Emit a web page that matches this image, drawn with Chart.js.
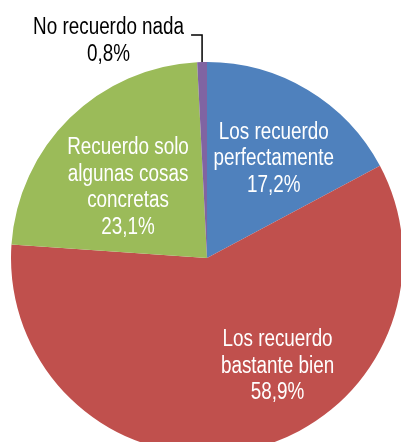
<!DOCTYPE html>
<html>
<head>
<meta charset="utf-8">
<script src="https://cdn.jsdelivr.net/npm/chart.js@4/dist/chart.umd.min.js"></script>
<style>
html,body{margin:0;padding:0;background:#fff;overflow:hidden;width:401px;height:442px;}
canvas{position:absolute;left:0;top:0;}
</style>
</head>
<body>
<canvas id="c" width="414" height="460"></canvas>
<script>
const categories = ["Los recuerdo perfectamente", "Los recuerdo bastante bien", "Recuerdo solo algunas cosas concretas", "No recuerdo nada"];
const labelLines = [["Los recuerdo", "perfectamente"], ["Los recuerdo", "bastante bien"], ["Recuerdo solo", "algunas cosas", "concretas"], ["No recuerdo nada"]];
const values = [17.2, 58.9, 23.1, 0.8];
const valueLabels = ["17,2%", "58,9%", "23,1%", "0,8%"];
const colors = ["#4F81BD", "#C0504D", "#9BBB59", "#8064A2"];

// label placement: angle offset (deg) from slice middle, radius fraction; purple is outside with a leader line
const placement = [
  {inside: true, dAng: 3, frac: 0.61},
  {inside: true, dAng: -21, frac: 0.66},
  {inside: true, dAng: -3.8, frac: 0.54},
  {inside: false, rise: 27, run: 11}
];

const FONT = "23px 'Liberation Sans', Arial, sans-serif";
const NARROW = 0.82;
const LINE_H = 26.5;

function narrowText(ctx, t, x, y) {
  ctx.save();
  ctx.translate(x, y);
  ctx.scale(NARROW, 1);
  ctx.fillText(t, 0, 0);
  ctx.restore();
}

const labelPlugin = {
  id: 'sliceLabels',
  afterDatasetsDraw(chart) {
    const ctx = chart.ctx;
    const meta = chart.getDatasetMeta(0);
    ctx.save();
    ctx.font = FONT;
    ctx.textAlign = 'center';
    ctx.textBaseline = 'middle';
    meta.data.forEach((arc, i) => {
      const p = arc.getProps(['x', 'y', 'startAngle', 'endAngle', 'outerRadius'], true);
      const mid = (p.startAngle + p.endAngle) / 2;
      const lines = labelLines[i].concat([valueLabels[i]]);
      const pl = placement[i];
      if (pl.inside) {
        const a = mid + pl.dAng * Math.PI / 180;
        const r = p.outerRadius * pl.frac;
        const cx = p.x + Math.cos(a) * r;
        const cy = p.y + Math.sin(a) * r;
        ctx.fillStyle = '#ffffff';
        const n = lines.length;
        lines.forEach((t, k) => {
          narrowText(ctx, t, cx, cy + (k - (n - 1) / 2) * LINE_H);
        });
      } else {
        const ex = p.x + Math.cos(mid) * p.outerRadius;
        const ey = p.y + Math.sin(mid) * p.outerRadius;
        const ty = ey - pl.rise;
        const tx = ex - pl.run;
        ctx.strokeStyle = '#000';
        ctx.lineWidth = 1.5;
        ctx.beginPath();
        ctx.moveTo(ex, ey);
        ctx.lineTo(ex, ty);
        ctx.lineTo(tx, ty);
        ctx.stroke();
        ctx.fillStyle = '#000';
        const w = ctx.measureText(lines[0]).width * NARROW;
        const cx = tx - 7 - w / 2;
        narrowText(ctx, lines[0], cx, ty - 7);
        narrowText(ctx, lines[1], cx, ty - 7 + LINE_H);
      }
    });
    ctx.restore();
  }
};

new Chart(document.getElementById('c'), {
  type: 'pie',
  data: {
    labels: categories,
    datasets: [{
      data: values,
      backgroundColor: colors,
      borderWidth: 0
    }]
  },
  options: {
    responsive: false,
    animation: false,
    layout: {padding: {left: 11, top: 62, right: 11, bottom: 6}},
    plugins: {legend: {display: false}, tooltip: {enabled: false}}
  },
  plugins: [labelPlugin]
});
</script>
</body>
</html>
